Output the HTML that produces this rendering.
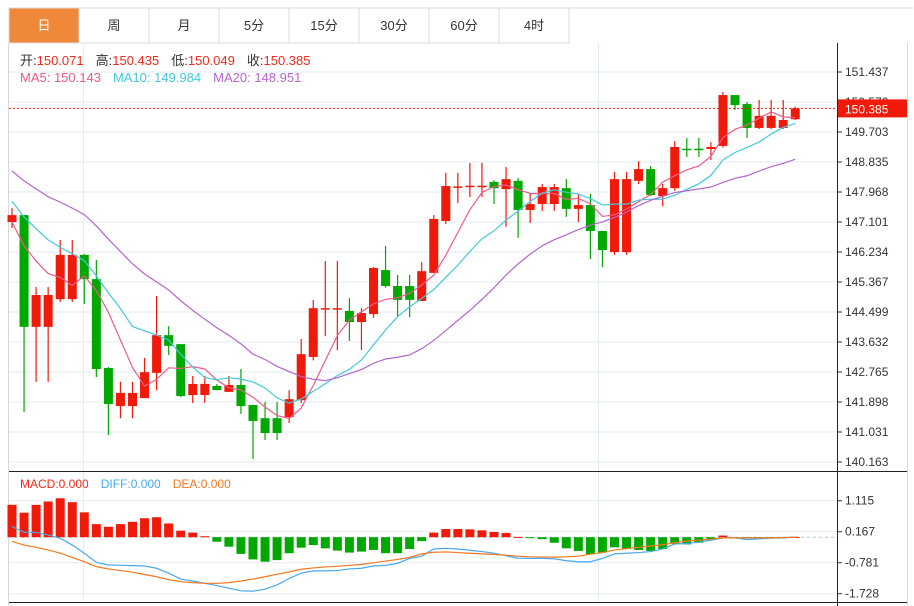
<!DOCTYPE html>
<html><head><meta charset="utf-8"><style>
body{margin:0;background:#fff;width:914px;height:606px;overflow:hidden;font-family:"Liberation Sans","Noto Sans CJK SC",sans-serif}
svg{display:block}
</style></head><body>
<svg id="chart" width="914" height="606" xmlns="http://www.w3.org/2000/svg">
<g id="tabs"></g>
<g id="grid"></g>
<g id="marks"></g>
<g id="ma"></g>
<g id="macd"></g>
<g id="axis"></g>
<text x="20" y="65" font-size="13"><tspan fill="#333">开:</tspan><tspan fill="#f02a1a">150.071</tspan><tspan fill="#333" dx="12">高:</tspan><tspan fill="#f02a1a">150.435</tspan><tspan fill="#333" dx="12">低:</tspan><tspan fill="#f02a1a">150.049</tspan><tspan fill="#333" dx="12">收:</tspan><tspan fill="#f02a1a">150.385</tspan></text>
<text x="20" y="82" font-size="13"><tspan fill="#ee5a8a">MA5: 150.143</tspan><tspan fill="#42c8dc" dx="12">MA10: 149.984</tspan><tspan fill="#b466cc" dx="12">MA20: 148.951</tspan></text>
<text x="20" y="488" font-size="12"><tspan fill="#f02a1a">MACD:0.000</tspan><tspan fill="#4aa8ee" dx="12">DIFF:0.000</tspan><tspan fill="#f07820" dx="12">DEA:0.000</tspan></text>
</svg>
<script>
const tabLabels=["日","周","月","5分","15分","30分","60分","4时"];
const priceTicks=[151.437,150.570,149.703,148.835,147.968,147.101,146.234,145.367,144.499,143.632,142.765,141.898,141.031,140.163];
const macdTicks=[1.115,0.167,-0.781,-1.728];
const priorCloses=[149.8,149.6,149.5,149.3,149.6,149.2,149.4,149.5,149.3,149.3,148.6,148.4,148.2,148.3,148.0,147.5,147.2,146.8,146.7];
const opens=[147.10,147.30,144.07,144.07,144.87,144.87,146.15,145.45,142.88,141.78,141.78,142.01,142.74,143.83,143.57,142.10,142.10,142.36,142.19,142.39,141.81,141.43,141.43,141.46,141.95,143.20,144.58,144.58,144.53,144.21,144.44,145.71,145.25,145.25,144.82,145.63,147.13,148.10,148.12,148.12,148.26,148.05,148.29,147.45,147.62,147.62,148.08,147.48,147.59,146.84,146.23,146.23,148.29,148.63,147.85,148.08,149.22,149.22,149.21,149.30,150.77,150.51,149.82,149.82,149.82,150.071];
const highs=[147.51,147.30,145.22,145.22,146.58,146.58,146.18,146.00,142.91,142.48,142.48,143.17,144.96,144.09,143.57,142.65,142.65,142.42,142.65,142.85,141.81,141.90,141.90,142.24,143.72,144.85,145.97,145.97,144.90,144.61,145.80,146.41,145.57,145.57,145.94,147.30,148.52,148.52,148.81,148.81,148.31,148.69,148.37,147.94,148.20,148.20,148.34,147.91,147.91,146.84,148.55,148.55,148.86,148.72,148.20,149.44,149.53,149.53,149.41,150.86,150.77,150.57,150.63,150.63,150.63,150.435];
const lows=[146.93,141.61,142.48,142.48,144.79,144.79,144.73,142.62,140.94,141.43,141.43,142.01,142.24,143.26,142.04,141.87,141.87,142.24,142.19,141.55,140.25,140.80,140.80,141.29,141.87,143.10,143.80,143.40,143.66,143.40,144.33,145.20,144.35,144.35,144.82,145.63,147.04,147.65,147.82,147.82,147.62,146.96,146.64,147.07,147.42,147.42,147.25,147.10,146.03,145.80,146.15,146.15,148.20,147.85,147.56,148.00,148.98,148.98,148.89,149.25,150.34,149.53,149.79,149.79,149.79,150.049];
const closes=[147.30,144.07,144.99,144.99,146.15,146.15,145.45,142.85,141.84,142.16,142.16,142.76,143.83,143.52,142.07,142.42,142.42,142.24,142.39,141.78,141.35,141.00,141.00,141.98,143.28,144.61,144.61,144.61,144.21,144.47,145.77,145.25,144.85,144.85,145.68,147.19,148.14,148.13,148.15,148.15,148.08,148.34,147.45,147.62,148.11,148.11,147.48,147.59,146.84,146.29,148.34,148.34,148.63,147.88,148.08,149.27,149.19,149.19,149.27,150.77,150.48,149.82,150.17,150.17,150.05,150.385];
const macdBars=[0.99,0.75,0.99,1.09,1.19,1.07,0.76,0.40,0.32,0.40,0.47,0.58,0.61,0.42,0.20,0.14,0.03,-0.14,-0.29,-0.51,-0.68,-0.75,-0.70,-0.49,-0.32,-0.24,-0.34,-0.41,-0.47,-0.44,-0.39,-0.49,-0.49,-0.36,-0.12,0.14,0.25,0.25,0.24,0.21,0.16,0.13,0.01,-0.02,-0.06,-0.17,-0.34,-0.42,-0.52,-0.47,-0.31,-0.36,-0.39,-0.42,-0.36,-0.21,-0.22,-0.17,-0.09,0.05,-0.03,-0.03,-0.02,-0.01,0,0.01];
const diffLine=[0.33,0.15,0.15,0.07,-0.03,-0.24,-0.49,-0.77,-0.85,-0.86,-0.87,-0.88,-0.95,-1.10,-1.28,-1.34,-1.41,-1.48,-1.56,-1.64,-1.65,-1.59,-1.46,-1.26,-1.10,-1.03,-1.03,-1.02,-0.97,-0.95,-0.88,-0.86,-0.80,-0.65,-0.58,-0.36,-0.34,-0.36,-0.40,-0.44,-0.49,-0.57,-0.64,-0.65,-0.65,-0.66,-0.72,-0.75,-0.75,-0.65,-0.51,-0.49,-0.47,-0.44,-0.36,-0.21,-0.19,-0.15,-0.09,-0.02,-0.02,-0.07,-0.05,-0.03,-0.02,0.00];
const deaLine=[-0.13,-0.24,-0.31,-0.39,-0.49,-0.62,-0.75,-0.90,-0.97,-1.02,-1.07,-1.14,-1.21,-1.30,-1.36,-1.39,-1.41,-1.41,-1.39,-1.34,-1.28,-1.21,-1.13,-1.06,-0.98,-0.94,-0.91,-0.89,-0.86,-0.83,-0.78,-0.73,-0.68,-0.62,-0.51,-0.46,-0.45,-0.47,-0.49,-0.51,-0.53,-0.55,-0.58,-0.60,-0.61,-0.61,-0.60,-0.58,-0.52,-0.47,-0.39,-0.35,-0.31,-0.27,-0.23,-0.17,-0.12,-0.09,-0.06,-0.02,-0.02,-0.02,-0.02,-0.02,-0.01,0.00];
const lastPrice=150.385;

const NS="http://www.w3.org/2000/svg";
const RED="#f01a0a",GREEN="#00a800";
const xOf=i=>12+i*12.05;
const yP=p=>72+(151.437-p)*390/11.274;
const yM=v=>537.2-v*32.7;
function mk(parent,tag,attrs){const e=document.createElementNS(NS,tag);for(const k in attrs)e.setAttribute(k,attrs[k]);document.getElementById(parent).appendChild(e);return e;}

// tabs
tabLabels.forEach((t,i)=>{
 const x=9+i*70;
 const r=mk("tabs","rect",{x:x,y:8,width:70,height:35,fill:i===0?"#f0883a":"#fff",stroke:"#dcdcdc"});
 
 
 const tx=mk("tabs","text",{x:x+35,y:30,"text-anchor":"middle","font-size":13,fill:i===0?"#fff":"#333"});
 tx.textContent=t;
 
 
});
mk("tabs","line",{x1:568,y1:8,x2:913,y2:8,stroke:"#dcdcdc"});
// frame
mk("grid","line",{x1:8.5,y1:43,x2:8.5,y2:606,stroke:"#d8d8d8"});
mk("grid","line",{x1:907.5,y1:43,x2:907.5,y2:606,stroke:"#d8d8d8"});
// grid
priceTicks.forEach(p=>{
 const g=mk("grid","line",{x1:9,x2:837,y1:yP(p),y2:yP(p),stroke:"#e2ecf2"});
 
 
 const t=mk("axis","text",{x:845,y:yP(p)+4,"font-size":12,fill:"#333"});
 t.textContent=p.toFixed(3);
 
 
 mk("axis","line",{x1:837,x2:842,y1:yP(p),y2:yP(p),stroke:"#333"});
});
macdTicks.forEach(v=>{
 mk("grid","line",{x1:9,x2:837,y1:yM(v),y2:yM(v),stroke:"#e2ecf2"});
 const t=mk("axis","text",{x:845,y:yM(v)+4,"font-size":12,fill:"#333"});
 t.textContent=v.toFixed(3);
 
 
 mk("axis","line",{x1:837,x2:842,y1:yM(v),y2:yM(v),stroke:"#333"});
});
[83.5,598.5].forEach(x=>mk("grid","line",{x1:x,x2:x,y1:43,y2:602,stroke:"#e2ecf2"}));
mk("axis","line",{x1:837.5,x2:837.5,y1:43,y2:606,stroke:"#222"});
mk("axis","line",{x1:9,x2:907,y1:471.5,y2:471.5,stroke:"#222"});
mk("axis","line",{x1:9,x2:907,y1:602.5,y2:602.5,stroke:"#222"});

// candles
opens.forEach((o,i)=>{
 const c=closes[i],x=xOf(i),col=c>=o?RED:GREEN;
 const w=mk("marks","line",{x1:x,x2:x,y1:yP(highs[i]),y2:yP(lows[i]),stroke:col,"stroke-width":1.2});
 
 
 const top=yP(Math.max(o,c)),h=Math.max(1.5,yP(Math.min(o,c))-top);
 const b=mk("marks","rect",{x:x-4.5,y:top,width:9,height:h,fill:col});
 
 
});
// MA
const allC=priorCloses.concat(closes);
function ma(n){return closes.map((_,i)=>{const j=i+priorCloses.length;let s=0;for(let k=j-n+1;k<=j;k++)s+=allC[k];return s/n;});}
[[5,"#ee5a8a"],[10,"#42c8dc"],[20,"#b466cc"]].forEach(([n,col])=>{
 const v=ma(n);
 const pl=mk("ma","polyline",{points:v.map((p,i)=>xOf(i)+","+yP(p)).join(" "),fill:"none",stroke:col,"stroke-width":1.2});
 
 
});
// last price
mk("ma","line",{x1:9,x2:837,y1:yP(lastPrice),y2:yP(lastPrice),stroke:RED,"stroke-dasharray":"2,2"});
const lb=mk("axis","rect",{x:838,y:yP(lastPrice)-9,width:69,height:18,fill:RED});


const lt=mk("axis","text",{x:845,y:yP(lastPrice)+5,"font-size":12,fill:"#fff"});
lt.textContent=lastPrice.toFixed(3);

// MACD
mk("macd","line",{x1:9,x2:837,y1:yM(0),y2:yM(0),stroke:"#9cd0e0","stroke-dasharray":"3,3"});
macdBars.forEach((v,i)=>{
 const y0=yM(0),y1=yM(v);
 const r=mk("macd","rect",{x:xOf(i)-4.5,y:Math.min(y0,y1),width:9,height:Math.max(1,Math.abs(y1-y0)),fill:v>=0?RED:GREEN});
 
 
});
[[diffLine,"#4aa8ee","diff-line"],[deaLine,"#f07820","dea-line"]].forEach(([arr,col,nm])=>{
 const pl=mk("macd","polyline",{points:arr.map((v,i)=>xOf(i)+","+yM(v)).join(" "),fill:"none",stroke:col,"stroke-width":1.2});
 
 
});
</script>
</body></html>
